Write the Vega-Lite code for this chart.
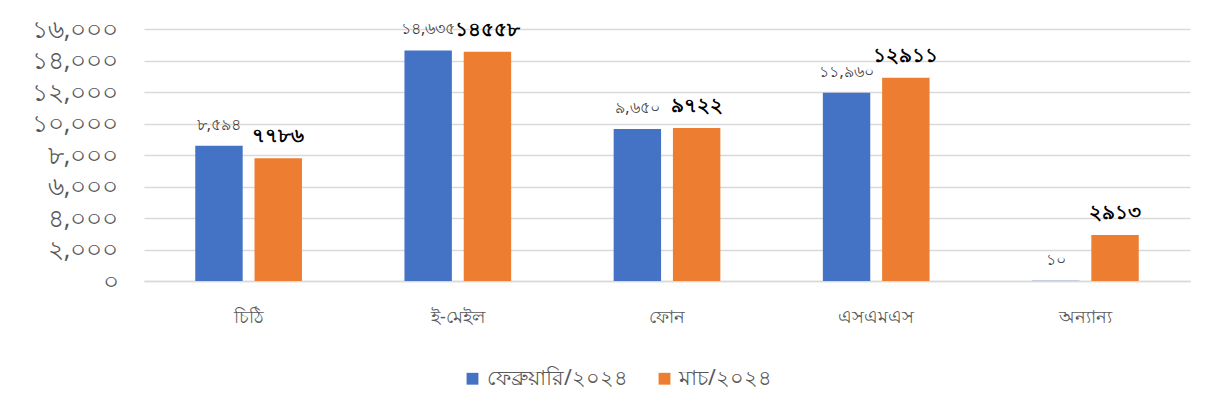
{
  "$schema": "https://vega.github.io/schema/vega-lite/v6.json",
  "width": 1046,
  "height": 252,
  "autosize": {"type": "none"},
  "padding": {"left": 144, "top": 29, "right": 30, "bottom": 136},
  "background": "#ffffff",
  "config": {
    "font": "Noto Sans",
    "view": {"stroke": null},
    "axis": {"labelFont": "Noto Sans", "labelColor": "#595959"}
  },
  "data": {
    "values": [
      {"cat": "চিঠি", "series": "ফেব্রুয়ারি/২০২৪", "value": 8594, "label": "৮,৫৯৪"},
      {"cat": "চিঠি", "series": "মাচ/২০২৪", "value": 7786, "label": "৭৭৮৬"},
      {"cat": "ই-মেইল", "series": "ফেব্রুয়ারি/২০২৪", "value": 14635, "label": "১৪,৬৩৫"},
      {"cat": "ই-মেইল", "series": "মাচ/২০২৪", "value": 14558, "label": "১৪৫৫৮"},
      {"cat": "ফোন", "series": "ফেব্রুয়ারি/২০২৪", "value": 9650, "label": "৯,৬৫০"},
      {"cat": "ফোন", "series": "মাচ/২০২৪", "value": 9722, "label": "৯৭২২"},
      {"cat": "এসএমএস", "series": "ফেব্রুয়ারি/২০২৪", "value": 11960, "label": "১১,৯৬০"},
      {"cat": "এসএমএস", "series": "মাচ/২০২৪", "value": 12911, "label": "১২৯১১"},
      {"cat": "অন্যান্য", "series": "ফেব্রুয়ারি/২০২৪", "value": 10, "label": "১০"},
      {"cat": "অন্যান্য", "series": "মাচ/২০২৪", "value": 2913, "label": "২৯১৩"}
    ]
  },
  "encoding": {
    "x": {
      "field": "cat", "type": "nominal", "sort": null,
      "scale": {"paddingInner": 0.49, "paddingOuter": 0.245},
      "axis": {"title": null, "labelAngle": 0, "labelFontSize": 18, "labelPadding": 27, "ticks": false, "domainColor": "#d9d9d9", "domainWidth": 1.5}
    },
    "xOffset": {
      "field": "series", "type": "nominal", "sort": null,
      "scale": {"paddingInner": 0.2, "paddingOuter": 0}
    },
    "y": {
      "field": "value", "type": "quantitative",
      "scale": {"domain": [0, 16000]},
      "axis": {
        "title": null, "values": [0, 2000, 4000, 6000, 8000, 10000, 12000, 14000, 16000],
        "labelExpr": "['০','২,০০০','৪,০০০','৬,০০০','৮,০০০','১০,০০০','১২,০০০','১৪,০০০','১৬,০০০'][round(datum.value/2000)]",
        "labelFontSize": 25, "labelPadding": 26, "ticks": false, "domain": false,
        "gridColor": "#d9d9d9", "gridWidth": 1.5
      }
    }
  },
  "layer": [
    {
      "mark": {"type": "bar"},
      "encoding": {
        "color": {
          "field": "series", "type": "nominal", "sort": null,
          "scale": {"range": ["#4472c4", "#ed7d31"]},
          "legend": {
            "title": null, "orient": "none", "direction": "horizontal",
            "legendX": 318, "legendY": 339,
            "symbolType": "square", "symbolSize": 140, "symbolStrokeWidth": 0,
            "labelFontSize": 21, "labelColor": "#595959", "columnPadding": 26, "labelOffset": 4
          }
        }
      }
    },
    {
      "transform": [{"filter": "datum.series == 'ফেব্রুয়ারি/২০২৪'"}],
      "mark": {"type": "text", "baseline": "middle", "dy": -21, "fontSize": 16, "color": "#404040"},
      "encoding": {"text": {"field": "label"}}
    },
    {
      "transform": [{"filter": "datum.series == 'মাচ/২০২৪'"}],
      "mark": {"type": "text", "baseline": "middle", "dy": -22, "fontSize": 20, "fontWeight": "bold", "color": "#000000"},
      "encoding": {"text": {"field": "label"}}
    }
  ]
}
